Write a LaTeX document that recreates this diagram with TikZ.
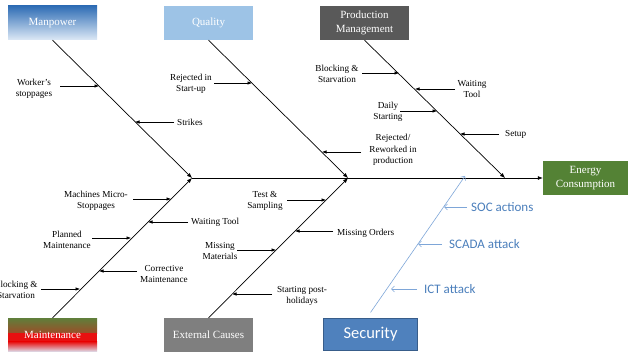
\documentclass[tikz,border=0pt]{standalone}
\usepackage{fontspec}
\setmainfont{Liberation Serif}
\newfontfamily\secfont{Carlito}
\usetikzlibrary{arrows.meta,calc}
\definecolor{manTop}{HTML}{2F6DB5}
\definecolor{manBot}{HTML}{DDE9F6}
\definecolor{qualc}{HTML}{9DC3E6}
\definecolor{prodc}{HTML}{595959}
\definecolor{extc}{HTML}{7F7F7F}
\definecolor{energyc}{HTML}{548235}
\definecolor{secblue}{HTML}{4F81BD}
\definecolor{secborder}{HTML}{385D8A}
\definecolor{sectext}{HTML}{4A7EBB}
\definecolor{seclight}{HTML}{7EA6D8}
\definecolor{mntgreen}{HTML}{5F7F3B}
\definecolor{mntred}{HTML}{E81010}
\definecolor{mntlight}{HTML}{DDE6F4}
\begin{document}
\begin{tikzpicture}[x=1pt,y=-1pt,
  box/.style={minimum width=89pt, minimum height=34pt, inner sep=1pt, text=white,
    font=\fontsize{11}{13.5}\selectfont, align=center},
  bone/.style={line width=0.7pt, -{Latex[length=5pt,width=4pt]}},
  sub/.style={line width=0.6pt, -{Latex[length=4.5pt,width=3.5pt]}},
  lbl/.style={font=\fontsize{9.2}{11.5}\selectfont, align=center, inner sep=0pt},
  lblw/.style={lbl, anchor=west},
  secline/.style={draw=seclight, line width=0.6pt, -{Straight Barb[length=3pt,width=6pt]}},
  seclbl/.style={font=\secfont\fontsize{13}{15}\selectfont, text=sectext, anchor=west, inner sep=0pt}]
\useasboundingbox (0,0) rectangle (628,352);

% category boxes
\node[box, top color=manTop, bottom color=manBot] (man) at (52.5,23) {Manpower};
\node[box, fill=qualc] (qual) at (208.5,23) {Quality};
\node[box, fill=prodc] (prod) at (364.5,23) {Production\\Management};
\node[box, fill=extc] (ext) at (208.5,335) {External Causes};
\node[box, path picture={
   \shade[top color=mntgreen, bottom color=mntred]
     (path picture bounding box.north west) rectangle
     ($(path picture bounding box.north east)!0.45!(path picture bounding box.south east)$);
   \fill[mntred]
     ($(path picture bounding box.north west)!0.449!(path picture bounding box.south west)$) rectangle
     ($(path picture bounding box.north east)!0.70!(path picture bounding box.south east)$);
   \shade[top color=mntred, bottom color=mntlight]
     ($(path picture bounding box.north west)!0.699!(path picture bounding box.south west)$) rectangle
     (path picture bounding box.south east);}] (mnt) at (52.5,335) {Maintenance};
\node[box, fill=secblue, draw=secborder, line width=1pt, minimum width=94pt, minimum height=32pt,
  font=\secfont\fontsize{16.5}{18}\selectfont] (sec) at (370.5,334) {Security};
\node[box, fill=energyc, minimum width=85pt] (en) at (585.5,178) {Energy\\Consumption};

% spine points
\coordinate (s1) at (192,178);
\coordinate (s2) at (348,178);
\coordinate (s3) at (505,178);
\coordinate (s4) at (465,176);

% bones
\draw[bone] (s1) -- (en.west);
\draw[bone] (man.south) -- (s1);
\draw[bone] (qual.south) -- (s2);
\draw[bone] (prod.south) -- (s3);
\draw[bone] (mnt.north) -- (s1);
\draw[bone] (ext.north) -- (s2);
\draw[secline] ([yshift=5pt]sec.north) -- (s4);

% Manpower
\node[lbl] (wk) at (34,89) {Worker’s\\stoppages};
\coordinate (wkt) at (60,86); \coordinate (wkh) at (99,86);
\draw[sub] (wkt) -- (wkh);
\node[lblw] (st) at (177,122) {Strikes};
\coordinate (stt) at (174,122); \coordinate (sth) at (135,122);
\draw[sub] (stt) -- (sth);

% Quality
\node[lbl] (rj) at (191,84) {Rejected in\\Start-up};
\coordinate (rjt) at (214,83); \coordinate (rjh) at (252,83);
\draw[sub] (rjt) -- (rjh);
\node[lbl] (rr) at (393,150) {Rejected/\\Reworked in\\production};
\coordinate (rrt) at (361,152); \coordinate (rrh) at (322,152);
\draw[sub] (rrt) -- (rrh);

% Production Management
\node[lbl] (bs) at (337,74) {Blocking \&\\Starvation};
\coordinate (bst) at (362,73); \coordinate (bsh) at (399,73);
\draw[sub] (bst) -- (bsh);
\node[lbl] (wt) at (472,89) {Waiting\\Tool};
\coordinate (wtt) at (455,89); \coordinate (wth) at (415,89);
\draw[sub] (wtt) -- (wth);
\node[lbl] (ds) at (388,112) {Daily\\Starting};
\coordinate (dst) at (400,111); \coordinate (dsh) at (437,111);
\draw[sub] (dst) -- (dsh);
\node[lblw] (su) at (505,134) {Setup};
\coordinate (sut) at (499,134); \coordinate (suh) at (460,134);
\draw[sub] (sut) -- (suh);

% Maintenance
\node[lbl] (mm) at (96,201) {Machines Micro-\\Stoppages};
\coordinate (mmt) at (133,199); \coordinate (mmh) at (171,199);
\draw[sub] (mmt) -- (mmh);
\node[lblw] (wt2) at (191,222) {Waiting Tool};
\coordinate (wt2t) at (188,222); \coordinate (wt2h) at (148,222);
\draw[sub] (wt2t) -- (wt2h);
\node[lbl] (pm) at (67,240) {Planned\\Maintenance};
\coordinate (pmt) at (92,238); \coordinate (pmh) at (131,238);
\draw[sub] (pmt) -- (pmh);
\node[lbl] (cm) at (164,274) {Corrective\\Maintenance};
\coordinate (cmt) at (137,271); \coordinate (cmh) at (99,271);
\draw[sub] (cmt) -- (cmh);
\node[lbl] (bs2) at (16,290) {Blocking \&\\Starvation};
\coordinate (bs2t) at (41,289); \coordinate (bs2h) at (80,289);
\draw[sub] (bs2t) -- (bs2h);

% External Causes
\node[lbl] (ts) at (265,201) {Test \&\\Sampling};
\coordinate (tst) at (287,200); \coordinate (tsh) at (326,200);
\draw[sub] (tst) -- (tsh);
\node[lblw] (mo) at (337,233) {Missing Orders};
\coordinate (mot) at (333,231); \coordinate (moh) at (295,231);
\draw[sub] (mot) -- (moh);
\node[lbl] (ma) at (220,251) {Missing\\Materials};
\coordinate (mat) at (237,250); \coordinate (mah) at (276,250);
\draw[sub] (mat) -- (mah);
\node[lbl] (sp) at (302,296) {Starting post-\\holidays};
\coordinate (spt) at (272,294); \coordinate (sph) at (232,294);
\draw[sub] (spt) -- (sph);

% Security
\node[seclbl] (soc) at (471,207) {SOC actions};
\coordinate (soct) at (467,207); \coordinate (soch) at (444,207);
\draw[secline] (soct) -- (soch);
\node[seclbl] (sca) at (449,244) {SCADA attack};
\coordinate (scat) at (442,244); \coordinate (scah) at (418,244);
\draw[secline] (scat) -- (scah);
\node[seclbl] (ict) at (424,289) {ICT attack};
\coordinate (ictt) at (417,289); \coordinate (icth) at (391,289);
\draw[secline] (ictt) -- (icth);
\end{tikzpicture}
\end{document}
